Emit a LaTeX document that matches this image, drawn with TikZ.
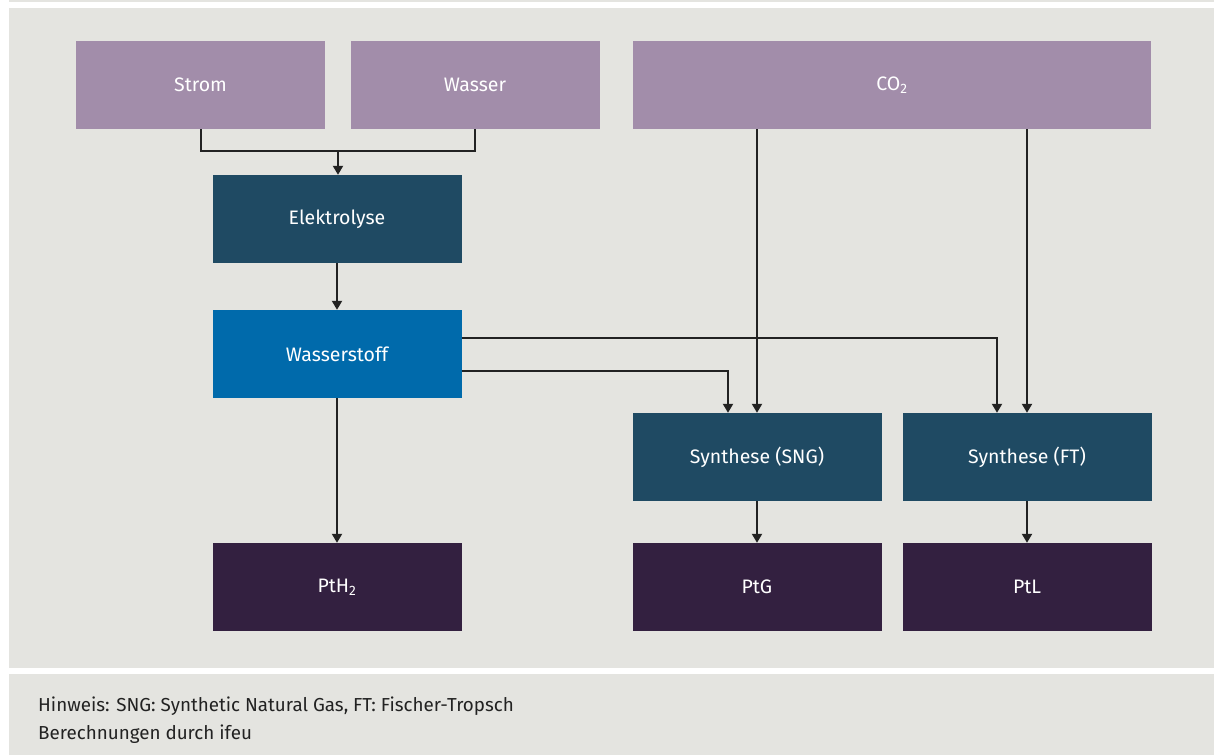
\documentclass[tikz,border=0pt]{standalone}
\usepackage{fontspec}
\setmainfont{Fira Sans}
\usepackage{xcolor}
\usetikzlibrary{arrows.meta}

\definecolor{panelgrey}{HTML}{E4E4E0}
\definecolor{inputlila}{HTML}{A28DAA}
\definecolor{procteal}{HTML}{1F4A63}
\definecolor{hydroblue}{HTML}{006AAB}
\definecolor{outputdark}{HTML}{332040}
\definecolor{linegrey}{HTML}{222222}

\tikzset{
  box/.style = {minimum width = 249pt, minimum height = 88pt, inner sep = 0pt,
                text = white, font = \fontsize{19.5}{23}\selectfont},
  inbox/.style = {box, fill = inputlila},
  procbox/.style = {box, fill = procteal},
  hbox/.style = {box, fill = hydroblue},
  outbox/.style = {box, fill = outputdark},
  flow/.style = {line width = 2pt, draw = linegrey},
  flowarrow/.style = {flow, -{Triangle[length = 9pt, width = 10pt]}},
  note/.style = {anchor = base west, text = linegrey, inner sep = 0pt,
                 font = \fontsize{18.8}{22}\selectfont},
}

\begin{document}
\begin{tikzpicture}[x = 1pt, y = -1pt]
    \useasboundingbox (0,0) rectangle (1214,755);
    % panels
    \fill[white] (0,0) rectangle (1214,755);
    \fill[panelgrey] (9,0) rectangle (1214,2);
    \fill[panelgrey] (9,8) rectangle (1214,668);
    \fill[panelgrey] (9,674) rectangle (1214,755);

    % inputs
    \node[inbox] (strom) at (200.5,85) {Strom};
    \node[inbox] (wasser) at (475,85) {Wasser};
    \node[inbox, minimum width = 518pt] (co2) at (892,85) {CO\textsubscript{2}};

    % process steps
    \node[procbox] (elektrolyse) at (337,219) {Elektrolyse};
    \node[hbox] (wasserstoff) at (337,354) {Wasserstoff};
    \node[procbox] (sng) at (757,457) {Synthese (SNG)};
    \node[procbox] (ft) at (1027,457) {Synthese (FT)};

    % products
    \node[outbox] (pth2) at (337,587) {PtH\textsubscript{2}};
    \node[outbox] (ptg) at (757,587) {PtG};
    \node[outbox] (ptl) at (1027,587) {PtL};

    % connectors
    \coordinate (join) at (338,151);
    \draw[flow] (strom.south) |- (join) -| (wasser.south);
    \draw[flowarrow] (join) -- (join |- elektrolyse.north);
    \draw[flowarrow] (elektrolyse) -- (wasserstoff);
    \draw[flowarrow] (wasserstoff) -- (pth2);
    \draw[flowarrow] ([yshift = 16pt]wasserstoff.east) -| ([xshift = -30pt]ft.north);
    \draw[flowarrow] ([yshift = -17pt]wasserstoff.east) -| ([xshift = -29pt]sng.north);
    \draw[flowarrow] (co2.south -| sng.north) -- (sng.north);
    \draw[flowarrow] (co2.south -| ft.north) -- (ft.north);
    \draw[flowarrow] (sng) -- (ptg);
    \draw[flowarrow] (ft) -- (ptl);

    % notes
    \node[note] (hinweis) at (38,711) {Hinweis: SNG: Synthetic Natural Gas, FT: Fischer-Tropsch};
    \node[note] (quelle) at (38,739) {Berechnungen durch ifeu};
\end{tikzpicture}
\end{document}
